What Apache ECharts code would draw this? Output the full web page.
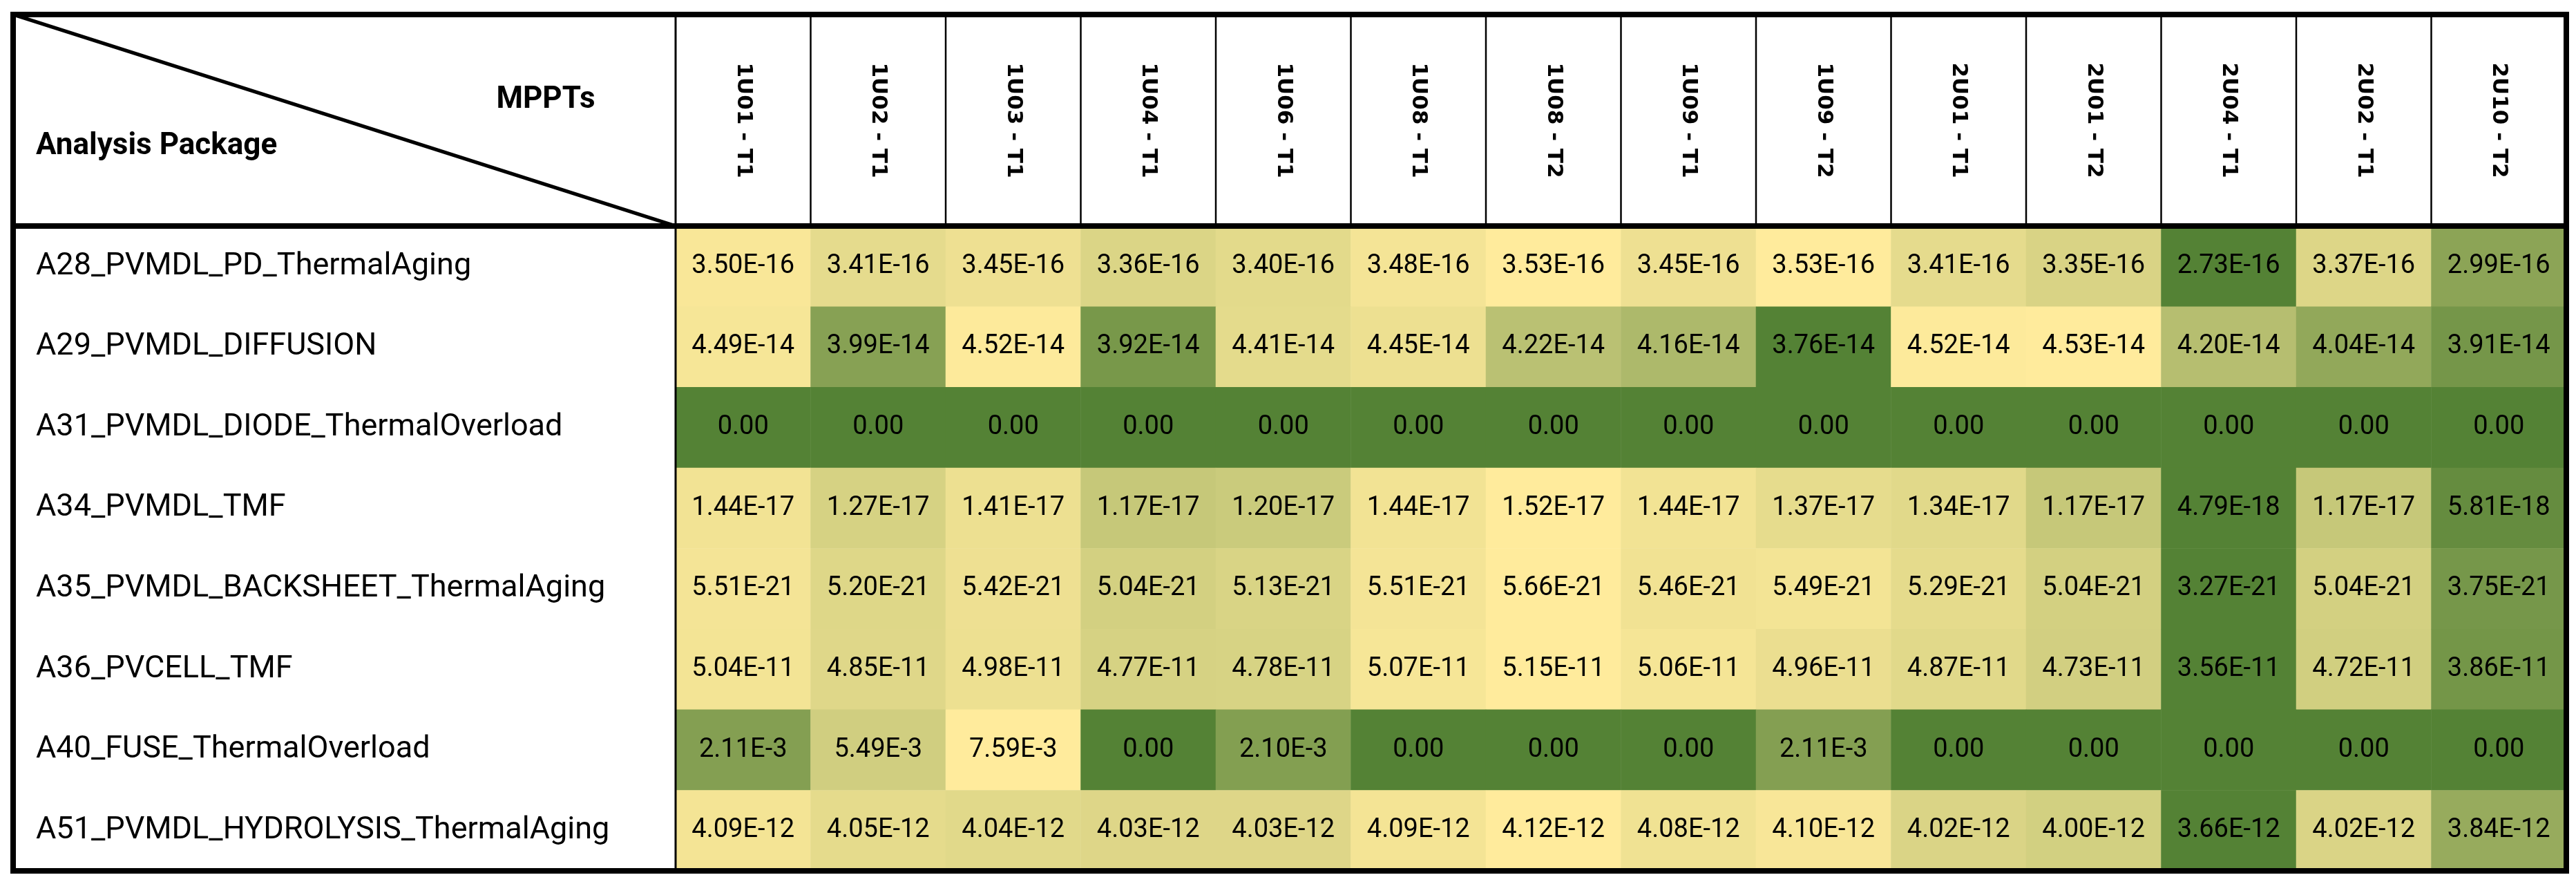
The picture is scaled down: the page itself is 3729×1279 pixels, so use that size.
<!DOCTYPE html>
<html><head><meta charset="utf-8">
<script src="https://cdn.jsdelivr.net/npm/echarts@6/dist/echarts.min.js"></script>
<style>html,body{margin:0;padding:0;background:#fff}#c{width:3729px;height:1279px}</style>
</head><body><div id="c"></div>
<script>
var mppts = ['1U01 - T1','1U02 - T1','1U03 - T1','1U04 - T1','1U06 - T1','1U08 - T1','1U08 - T2','1U09 - T1','1U09 - T2','2U01 - T1','2U01 - T2','2U04 - T1','2U02 - T1','2U10 - T2'];
var packages = ['A28_PVMDL_PD_ThermalAging','A29_PVMDL_DIFFUSION','A31_PVMDL_DIODE_ThermalOverload','A34_PVMDL_TMF','A35_PVMDL_BACKSHEET_ThermalAging','A36_PVCELL_TMF','A40_FUSE_ThermalOverload','A51_PVMDL_HYDROLYSIS_ThermalAging'];
var A28 = [3.50e-16,3.41e-16,3.45e-16,3.36e-16,3.40e-16,3.48e-16,3.53e-16,3.45e-16,3.53e-16,3.41e-16,3.35e-16,2.73e-16,3.37e-16,2.99e-16];
var A29 = [4.49e-14,3.99e-14,4.52e-14,3.92e-14,4.41e-14,4.45e-14,4.22e-14,4.16e-14,3.76e-14,4.52e-14,4.53e-14,4.20e-14,4.04e-14,3.91e-14];
var A31 = [0,0,0,0,0,0,0,0,0,0,0,0,0,0];
var A34 = [1.44e-17,1.27e-17,1.41e-17,1.17e-17,1.20e-17,1.44e-17,1.52e-17,1.44e-17,1.37e-17,1.34e-17,1.17e-17,4.79e-18,1.17e-17,5.81e-18];
var A35 = [5.51e-21,5.20e-21,5.42e-21,5.04e-21,5.13e-21,5.51e-21,5.66e-21,5.46e-21,5.49e-21,5.29e-21,5.04e-21,3.27e-21,5.04e-21,3.75e-21];
var A36 = [5.04e-11,4.85e-11,4.98e-11,4.77e-11,4.78e-11,5.07e-11,5.15e-11,5.06e-11,4.96e-11,4.87e-11,4.73e-11,3.56e-11,4.72e-11,3.86e-11];
var A40 = [2.11e-3,5.49e-3,7.59e-3,0,2.10e-3,0,0,0,2.11e-3,0,0,0,0,0];
var A51 = [4.09e-12,4.05e-12,4.04e-12,4.03e-12,4.03e-12,4.09e-12,4.12e-12,4.08e-12,4.10e-12,4.02e-12,4.00e-12,3.66e-12,4.02e-12,3.84e-12];
var rows = [A28,A29,A31,A34,A35,A36,A40,A51];

var data = [];
rows.forEach(function(r, ri){
  var mn = Math.min.apply(null, r), mx = Math.max.apply(null, r);
  r.forEach(function(v, ci){
    var n = mx > mn ? (v - mn) / (mx - mn) : 0;
    data.push({value:[ci, ri, n], raw:v});
  });
});
function fmt(v){ return v === 0 ? '0.00' : v.toExponential(2).toUpperCase().replace('E-', 'E-'); }

var L=19, T=21, R=3715, B=1260, GL=978, GT=327;
var cw = (R-GL)/mppts.length;
var chart = echarts.init(document.getElementById('c'));
var g = [
  {type:'line', shape:{x1:L,y1:T,x2:GL,y2:GT}, style:{stroke:'#000',lineWidth:5}, z:10},
  {type:'line', shape:{x1:GL,y1:T,x2:GL,y2:B}, style:{stroke:'#000',lineWidth:3}, z:10},
  {type:'line', shape:{x1:L,y1:GT,x2:R,y2:GT}, style:{stroke:'#000',lineWidth:8}, z:10},
  {type:'rect', shape:{x:L,y:T,width:R-L,height:B-T}, style:{fill:null,stroke:'#000',lineWidth:8}, z:11},
  {type:'text', x:790, y:145, style:{text:'MPPTs', font:'bold 44px Roboto', fill:'#000', align:'center', verticalAlign:'middle'}, z:10},
  {type:'text', x:52, y:212, style:{text:'Analysis Package', font:'bold 44px Roboto', fill:'#000', align:'left', verticalAlign:'middle'}, z:10}
];
for (var i=1;i<mppts.length;i++){
  g.push({type:'line', shape:{x1:GL+i*cw,y1:T,x2:GL+i*cw,y2:GT}, style:{stroke:'#000',lineWidth:2.5}, z:10});
}
chart.setOption({
  animation:false,
  grid:{left:GL, top:GT, right:3729-R, bottom:1279-B},
  xAxis:{type:'category', data:mppts, position:'top', axisLine:{show:false}, axisTick:{show:false}, splitArea:{show:false},
    axisLabel:{rotate:90, align:'center', verticalAlign:'middle', margin:(GT-T)/2, fontFamily:'DejaVu Sans', fontWeight:'bold', fontSize:31, color:'#000'}},
  yAxis:{type:'category', data:packages, inverse:true, axisLine:{show:false}, axisTick:{show:false},
    axisLabel:{align:'left', margin:GL-52, fontFamily:'Roboto', fontSize:45, color:'#000'}},
  visualMap:{show:false, min:0, max:1, dimension:2, inRange:{color:['#548235','#FFEB9C']}},
  series:[{type:'heatmap', data:data,
    label:{show:true, fontFamily:'Roboto', fontSize:38, color:'#000', formatter:function(p){return fmt(p.data.raw);}}}],
  graphic:g
});
</script></body></html>
